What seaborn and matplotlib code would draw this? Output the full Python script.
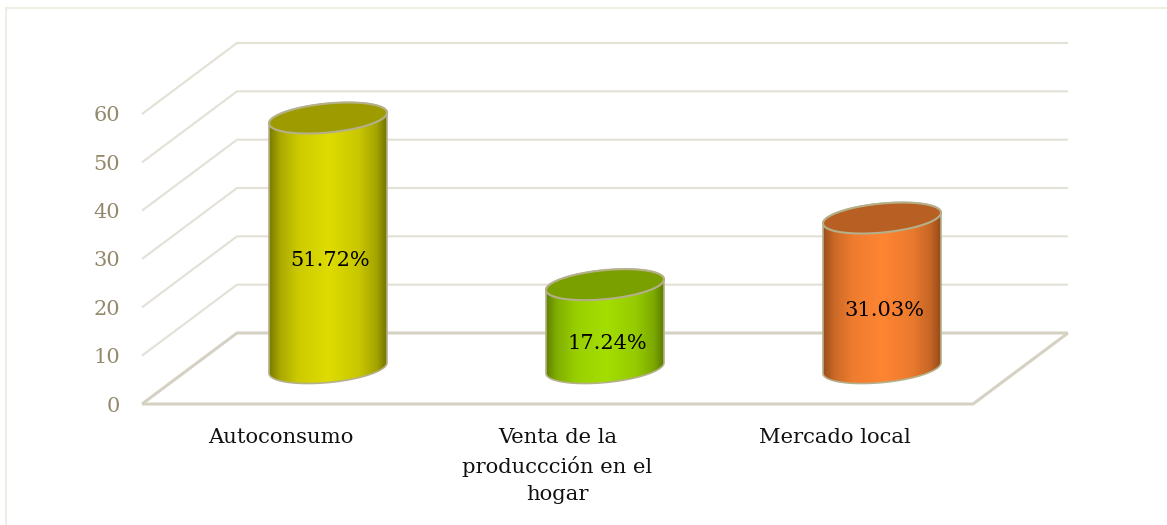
import numpy as np
import pandas as pd
import matplotlib
matplotlib.use('Agg')
import matplotlib.pyplot as plt
import seaborn as sns
from matplotlib.colors import LinearSegmentedColormap, to_rgb
from matplotlib.lines import Line2D
from matplotlib.patches import Polygon
from matplotlib.path import Path
from matplotlib.transforms import IdentityTransform

categories = ['Autoconsumo', 'Venta de la\nproduccción en el\nhogar', 'Mercado local']
values = [51.72, 17.24, 31.03]
value_labels = ['51.72%', '17.24%', '31.03%']
y_ticks = [0, 10, 20, 30, 40, 50, 60]

body_colors = ['#DEDC00', '#A4DE00', '#FF8533']
edge_colors = ['#6A6A00', '#557400', '#8A4617']
top_colors = ['#9D9B00', '#7AA000', '#B85F24']

W, H = 1167, 525
DEPTH_X, DEPTH_Y = 95, 71
TILT = 5.5
GRID = '#E3E0D5'
FLOOR = '#D5D1C3'
RIM = '#B5B08A'
TICK = '#94896B'

sns.set_theme(style='white')
plt.rcParams['font.family'] = ['DejaVu Serif']

df = pd.DataFrame({'cat': categories, 'val': values})

fig = plt.figure(figsize=(W / 100, H / 100), dpi=100)
ax = fig.add_axes([142 / W, (H - 404) / H, 831 / W, 290 / H])
sns.barplot(data=df, x='cat', y='val', hue='cat', palette=body_colors, saturation=1,
            width=0.426, legend=False, ax=ax, zorder=3)
ax.set_xlim(-0.5, 2.5)
ax.set_ylim(0, 60)
ax.set_xlabel('')
ax.set_ylabel('')
sns.despine(ax=ax, left=True, bottom=True)
ax.patch.set_visible(False)

# outer chart frame (only top and left show)
pix = IdentityTransform()
for xs, ys in [([6, W], [H - 8, H - 8]), ([6, 6], [H - 8, 0])]:
    fig.add_artist(Line2D(xs, ys, transform=pix, color='#EFEDE4', lw=1.5))


def to_px(x, y):
    return ax.transData.transform((x, y))


# back wall, side wall and floor, from the axis scales
for t in y_ticks:
    front = to_px(-0.5, t)
    back = front + (DEPTH_X, DEPTH_Y)
    back_r = to_px(2.5, t) + (DEPTH_X, DEPTH_Y)
    col, lw = (FLOOR, 2.2) if t == 0 else (GRID, 1.5)
    ax.add_line(Line2D([front[0], back[0], back_r[0]], [front[1], back[1], back_r[1]],
                       transform=pix, color=col, lw=lw, zorder=1, clip_on=False,
                       solid_capstyle='butt'))
p0 = to_px(-0.5, 0)
p1 = to_px(2.5, 0)
ax.add_line(Line2D([p0[0], p1[0], p1[0] + DEPTH_X], [p0[1], p1[1], p1[1] + DEPTH_Y],
                   transform=pix, color=FLOOR, lw=2.2, zorder=1, clip_on=False,
                   solid_capstyle='butt'))


def tilted_ellipse(cx, cy, rx, ry, t, angle=TILT):
    a = np.deg2rad(angle)
    ex, ey = rx * np.cos(t), ry * np.sin(t)
    return np.column_stack([cx + ex * np.cos(a) - ey * np.sin(a),
                            cy + ex * np.sin(a) + ey * np.cos(a)])


def mix(dark, light, f):
    d, l = np.array(to_rgb(dark)), np.array(to_rgb(light))
    return tuple(d + (l - d) * f)


SHIFT = np.array([47.5, 36])
bars = ax.patches[:len(values)]
for i, bar in enumerate(bars):
    x0 = bar.get_x()
    x1 = x0 + bar.get_width()
    h = bar.get_height()
    left = to_px(x0, 0) + SHIFT
    right = to_px(x1, h) + SHIFT
    cx = (left[0] + right[0]) / 2
    rx = (right[0] - left[0]) / 2 / np.cos(np.deg2rad(TILT))
    ry = 14.5

    lower = tilted_ellipse(cx, left[1], rx, ry, np.linspace(np.pi, 2 * np.pi, 80))
    upper = tilted_ellipse(cx, right[1], rx, ry, np.linspace(0, np.pi, 80))
    outline = np.vstack([lower, upper])
    clip = Path(np.vstack([outline, outline[0]]), closed=True)

    bar.set_clip_path(clip, pix)

    # horizontal shading: dark rims, bright centre
    dark, light = edge_colors[i], body_colors[i]
    cmap = LinearSegmentedColormap.from_list(f'cyl{i}', [
        (0, mix(dark, light, 0.1)), (0.1, mix(dark, light, 0.55)), (0.25, mix(dark, light, 0.85)),
        (0.5, light), (0.75, mix(dark, light, 0.82)), (0.9, mix(dark, light, 0.5)),
        (1, dark)])
    grad = np.linspace(0, 1, 256).reshape(1, -1)
    im = ax.imshow(grad, cmap=cmap, aspect='auto', transform=pix, zorder=3.1,
                   extent=[left[0] - 1, right[0] + 1, left[1] - 30, right[1] + 30],
                   interpolation='bilinear')
    im.set_clip_path(clip, pix)

    ax.add_patch(Polygon(outline, closed=True, fill=False, edgecolor=RIM, lw=1.2,
                         transform=pix, zorder=3.2, clip_on=False))
    top = tilted_ellipse(cx, right[1], rx, ry, np.linspace(0, 2 * np.pi, 160))
    ax.add_patch(Polygon(top, closed=True, facecolor=top_colors[i], edgecolor=RIM, lw=1.5,
                         transform=pix, zorder=3.3, clip_on=False))

    ax.annotate(value_labels[i], (i, h / 2), xytext=(50, 19), textcoords='offset pixels',
                ha='center', va='center', fontsize=15, color='black', zorder=5)

ax.set_xlim(-0.5, 2.5)
ax.set_ylim(0, 60)
ax.set_yticks(y_ticks)
ax.tick_params(axis='y', length=0, pad=16, labelsize=15, labelcolor=TICK)
ax.tick_params(axis='x', length=0, pad=17, labelsize=15.2, labelcolor='#111111')
for lab in ax.get_xticklabels():
    lab.set_linespacing(1.55)
    lab.set_ha('center')

fig.savefig('out.png', dpi=100, facecolor='white')
